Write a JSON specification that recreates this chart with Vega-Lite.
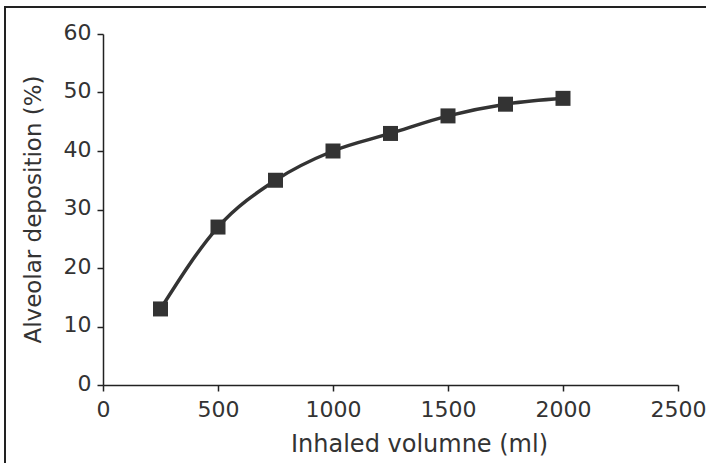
{
  "$schema": "https://vega.github.io/schema/vega-lite/v6.json",
  "width": 702,
  "height": 457,
  "autosize": {"type": "none"},
  "padding": {"left": 5, "top": 7, "right": -1, "bottom": -1},
  "background": "white",
  "config": {
    "view": {"stroke": "#222", "strokeWidth": 2},
    "axis": {
      "grid": false,
      "labelFont": "DejaVu Sans",
      "labelFontSize": 22,
      "labelColor": "#333",
      "titleFont": "DejaVu Sans",
      "titleFontWeight": "normal",
      "titleColor": "#333",
      "domainColor": "#222",
      "domainWidth": 1.5,
      "tickColor": "#222",
      "tickWidth": 1.5,
      "tickSize": 6,
      "labelFlush": false,
      "labelOverlap": false
    }
  },
  "data": {
    "values": [
      {"volume": 250, "deposition": 13},
      {"volume": 500, "deposition": 27},
      {"volume": 750, "deposition": 35},
      {"volume": 1000, "deposition": 40},
      {"volume": 1250, "deposition": 43},
      {"volume": 1500, "deposition": 46},
      {"volume": 1750, "deposition": 48},
      {"volume": 2000, "deposition": 49}
    ]
  },
  "encoding": {
    "x": {
      "field": "volume",
      "type": "quantitative",
      "scale": {"domain": [0, 2500], "range": [98, 673], "nice": false},
      "axis": {
        "orient": "bottom",
        "offset": -79,
        "values": [0, 500, 1000, 1500, 2000, 2500],
        "format": "d",
        "labelPadding": 8,
        "title": "Inhaled volumne (ml)",
        "titleFontSize": 24,
        "titleX": 414,
        "titleY": 66,
        "titleAlign": "center",
        "titleBaseline": "alphabetic"
      }
    },
    "y": {
      "field": "deposition",
      "type": "quantitative",
      "scale": {"domain": [0, 60], "range": [378, 27], "nice": false},
      "axis": {
        "orient": "left",
        "offset": -98,
        "values": [0, 10, 20, 30, 40, 50, 60],
        "format": "d",
        "labelPadding": 6,
        "labelOffset": -2,
        "title": "Alveolar deposition (%)",
        "titleFontSize": 23,
        "titleAngle": 270,
        "titleX": -63,
        "titleY": 202,
        "titleAlign": "center",
        "titleBaseline": "alphabetic"
      }
    }
  },
  "layer": [
    {"mark": {"type": "line", "interpolate": "monotone", "color": "#333", "strokeWidth": 3.5}},
    {"mark": {"type": "point", "shape": "square", "filled": true, "size": 225, "color": "#333", "opacity": 1}}
  ]
}
